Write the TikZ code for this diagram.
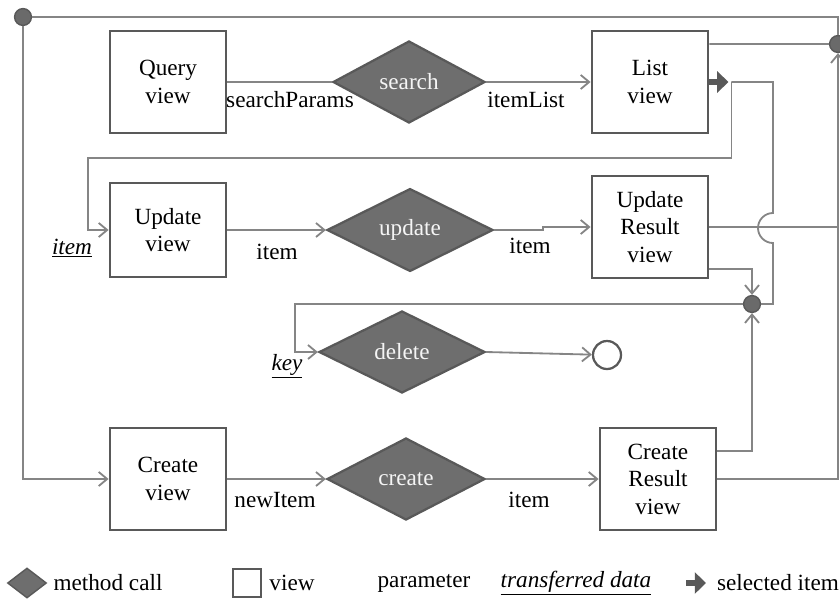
\documentclass[tikz,border=0pt]{standalone}
\usepackage{fontspec}
\setmainfont{Liberation Serif}
\usepackage{tikz}
\usetikzlibrary{shapes.geometric,arrows.meta}

\definecolor{boxgray}{HTML}{595959}
\definecolor{callgray}{HTML}{6E6E6E}
\definecolor{linegray}{HTML}{858585}
\definecolor{dotgray}{HTML}{6A6A6A}

\begin{document}
\begin{tikzpicture}[x=0.025cm, y=-0.025cm,
    font=\fontsize{16.5}{19.5}\selectfont,
    viewbox/.style={draw=boxgray, line width=2pt, fill=white, align=center,
      minimum width=2.9cm, minimum height=2.55cm, inner sep=1pt},
    call/.style={diamond, draw=boxgray, line width=1.6pt, fill=callgray,
      text=white!92!gray, minimum width=4cm, minimum height=2.05cm, inner sep=0pt},
    wire/.style={draw=linegray, line width=1.3pt},
    flow/.style={wire, -{Straight Barb[length=6pt,width=10pt]}},
    junc/.style={circle, draw=boxgray, fill=dotgray, line width=1pt,
      minimum size=0.42cm, inner sep=0pt},
    selarrow/.style={draw=boxgray, line width=4pt, -{Triangle[length=8pt,width=15pt]}}]

  \useasboundingbox (0,0) rectangle (840,600);

  % Views
  \node (qv) at (168,82) [viewbox] {Query\\view};
  \node (lv) at (650,82) [viewbox] {List\\view};
  \node (uv) at (168,230) [viewbox, minimum height=2.35cm] {Update\\view};
  \node (urv) at (650,227) [viewbox] {Update\\Result\\view};
  \node (cv) at (168,479) [viewbox] {Create\\view};
  \node (crv) at (658,479) [viewbox] {Create\\Result\\view};

  % Method calls
  \node (srch) at (409,82) [call, minimum width=3.8cm] {search};
  \node (upd) at (410,230) [call, minimum width=4.15cm] {update};
  \node (del) at (402,352) [call, minimum width=4.15cm] {delete};
  \node (crt) at (406,479) [call, minimum width=3.95cm] {create};

  % Junctions and end
  \node (jstart) at (23,17) [junc] {};
  \node (jright) at (838,44) [junc] {};
  \node (jmid) at (752,304) [junc] {};
  \node (fin) at (607,355) [circle, draw=boxgray, line width=1.6pt, fill=white, minimum size=0.7cm] {};

  % Parameters
  \node (lsp) at (290,100) {searchParams};
  \node (lil) at (526,100) {itemList};
  \node (li1) at (277,252) {item};
  \node (li2) at (530,246) {item};
  \node (lni) at (275,500) {newItem};
  \node (li3) at (529,500) {item};
  \node (lit) at (72,248) {\underline{\textit{item}}};
  \node (lkey) at (287,366) {\underline{\textit{key}}};

  % Main flows
  \draw[wire] (qv.east) -- (srch.west);
  \draw[flow] (srch.east) -- (lv.west);
  \draw[flow] (uv.east) -- (upd.west);
  \draw[flow] (upd.east) -- ++(49,0) |- (urv.west);
  \draw[flow] (cv.east) -- (crt.west);
  \draw[flow] (crt.east) -- (crv.west);
  \draw[flow] (del.east) -- (fin);

  % Selected item loops
  \coordinate (sel) at ([xshift=0.55cm]lv.east);
  \coordinate (hop) at (773,228);
  \coordinate (ltop) at (88,158);
  \coordinate (lkeyc) at (295,304);
  \draw[flow] (sel) |- (ltop) |- (uv.west);
  \draw[wire] (sel) -| ([yshift=0.375cm]hop) arc[start angle=90, end angle=270, radius=0.375cm]
    -- (hop |- jmid) -- (jmid);
  \draw[flow] (jmid) -- (lkeyc) |- (del.west);
  \draw[flow] ([yshift=-1.05cm]urv.east) -| (jmid);
  \draw[flow] ([yshift=0.7cm]crv.east) -| (jmid);

  % Back to start
  \draw[wire] ([yshift=0.95cm]lv.east) -- (jright);
  \draw[wire] (urv.east) -- (urv.east -| jright);
  \draw[flow] (crv.east) -| (jright);
  \draw[wire] (jright) |- (jstart);
  \draw[flow] (jstart) |- (cv.west);
  \draw[selarrow] (lv.east) -- ++(19,0);

  % Legend
  \node (lgcall) at (27,583) [call, minimum width=0.975cm, minimum height=0.75cm, line width=1pt] {};
  \node (lgcalltxt) at (108,583) {method call};
  \node (lgview) at (247,583) [viewbox, minimum width=0.7cm, minimum height=0.7cm] {};
  \node (lgviewtxt) at (292,583) {view};
  \node (lgpar) at (424,583) {parameter};
  \node (lgdata) at (576,583) {\underline{\textit{transferred data}}};
  \draw[selarrow] (686,583) -- (706,583);
  \node (lgsel) at (778,583) {selected item};
\end{tikzpicture}
\end{document}
